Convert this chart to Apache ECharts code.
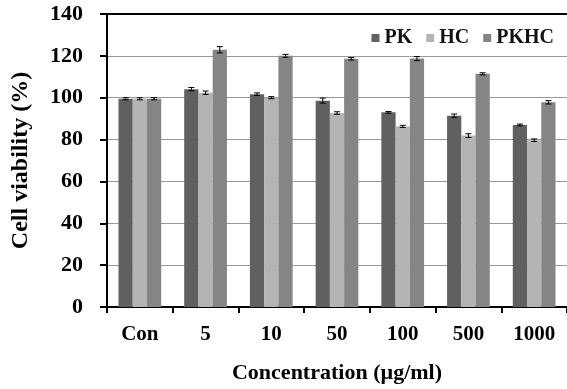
<!DOCTYPE html>
<html><head><meta charset="utf-8">
<script src="https://cdn.jsdelivr.net/npm/echarts@6/dist/echarts.min.js"></script>
<style>html,body{margin:0;padding:0;background:#fff}#c{width:567px;height:389px}</style>
</head><body><div id="c"></div>
<script>
var categories = ['Con','5','10','50','100','500','1000'];
var seriesNames = ['PK','HC','PKHC'];
var pk   = [99.5, 104.1, 101.7, 98.6, 93.0, 91.4, 87.0];
var hc   = [99.5, 102.4, 100.0, 92.7, 86.3, 81.9, 79.7];
var pkhc = [99.5, 122.9, 120.0, 118.6, 118.7, 111.4, 97.8];
var pkErr   = [0.5, 0.8, 0.6, 1.2, 0.4, 0.8, 0.4];
var hcErr   = [0.5, 0.8, 0.5, 0.6, 0.5, 0.9, 0.6];
var pkhcErr = [0.5, 1.5, 0.7, 0.6, 1.0, 0.5, 0.8];
var colors = ['#606060','#b4b4b4','#858585'];

var values = [pk, hc, pkhc];
var errs = [pkErr, hcErr, pkhcErr];
var font = 'Liberation Serif';
var gapPct = 0.35;

var series = [];
values.forEach(function(v, i){
  series.push({name: seriesNames[i], type:'bar', data: v, barGap:'0%', barCategoryGap: (gapPct*100)+'%',
    itemStyle:{color: colors[i]}, z:2});
});
values.forEach(function(v, i){
  var d = v.map(function(val, k){ return [k, val - errs[i][k], val + errs[i][k]]; });
  series.push({type:'custom', z:5, silent:true,
    renderItem: function(params, api){
      var x = api.value(0);
      var lo = api.coord([x, api.value(1)]);
      var hi = api.coord([x, api.value(2)]);
      var band = api.size([1,0])[0];
      var bw = band*(1-gapPct)/3;
      var cx = lo[0] + (i-1)*bw;
      var cap = 3;
      var st = {stroke:'#000', lineWidth:1};
      return {type:'group', children:[
        {type:'line', shape:{x1:cx,y1:lo[1],x2:cx,y2:hi[1]}, style:st},
        {type:'line', shape:{x1:cx-cap,y1:lo[1],x2:cx+cap,y2:lo[1]}, style:st},
        {type:'line', shape:{x1:cx-cap,y1:hi[1],x2:cx+cap,y2:hi[1]}, style:st}
      ]};
    },
    encode:{x:0, y:[1,2]}, data: d});
});

var chart = echarts.init(document.getElementById('c'));
chart.setOption({
  animation:false,
  grid:{left:107, right:0, top:14, bottom:81},
  legend:{data:seriesNames, top:23, right:8, itemWidth:8, itemHeight:8, itemGap:14,
    icon:'rect', textStyle:{fontFamily:font, fontWeight:'bold', fontSize:20, color:'#111'}},
  xAxis:[{type:'category', data:categories,
    axisLine:{lineStyle:{color:'#000', width:2}},
    axisTick:{show:true, length:6, lineStyle:{color:'#000', width:2}},
    axisLabel:{fontFamily:font, fontWeight:'bold', fontSize:21, color:'#000', margin:17},
    name:'Concentration (\u00b5g/ml)', nameLocation:'middle', nameGap:55,
    nameTextStyle:{fontFamily:font, fontWeight:'bold', fontSize:22, color:'#000'}},
    {type:'category', data:categories, position:'top',
    axisLine:{lineStyle:{color:'#000', width:2}}, axisTick:{show:false}, axisLabel:{show:false}}],
  yAxis:{type:'value', min:0, max:140, interval:20,
    axisLine:{show:true, lineStyle:{color:'#000', width:2}},
    axisTick:{show:true, length:7, lineStyle:{color:'#000', width:2}},
    axisLabel:{fontFamily:font, fontWeight:'bold', fontSize:22, color:'#000', margin:24},
    splitLine:{lineStyle:{color:'#999', width:1}},
    name:'Cell viability (%)', nameLocation:'middle', nameGap:74,
    nameTextStyle:{fontFamily:font, fontWeight:'bold', fontSize:24, color:'#000'}},
  series: series
});
</script></body></html>
